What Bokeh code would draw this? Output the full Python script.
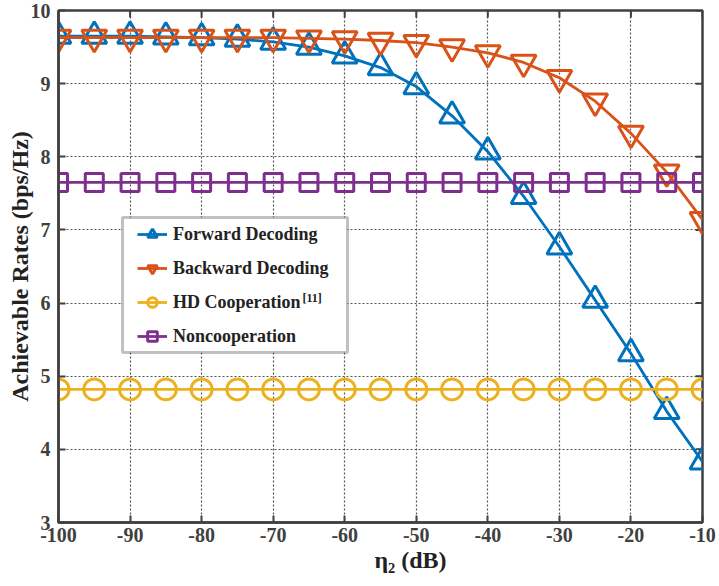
import math
from bokeh.plotting import figure
from bokeh.models import (Range1d, FixedTicker, Legend, LegendItem, Label, BoxAnnotation)
from bokeh.embed import file_html
from bokeh.resources import INLINE

# ---- data ----
eta2_db = [-100, -95, -90, -85, -80, -75, -70, -65, -60, -55, -50, -45, -40, -35, -30, -25, -20, -15, -10]
forward = [9.65, 9.65, 9.65, 9.64, 9.63, 9.61, 9.57, 9.50, 9.38, 9.22, 8.96, 8.56, 8.07, 7.46, 6.77, 6.04, 5.31, 4.52, 3.83]
backward = [9.63, 9.63, 9.63, 9.63, 9.63, 9.63, 9.63, 9.62, 9.61, 9.59, 9.56, 9.50, 9.42, 9.29, 9.08, 8.76, 8.32, 7.79, 7.14]
hd_coop = [4.82] * 19
noncoop = [7.65] * 19

x_ticks = [-100, -90, -80, -70, -60, -50, -40, -30, -20, -10]
y_ticks = [3, 4, 5, 6, 7, 8, 9, 10]

labels = ["Forward Decoding", "Backward Decoding", "HD Cooperation", "Noncooperation"]
colors = ["#0072BD", "#D95319", "#EDB120", "#7E2F8E"]

FONT = "Liberation Serif"
TXT = "#222222"
AX = "#404040"

FW, FH = 644, 512  # frame size
p = figure(width=719, height=586, output_backend="svg", toolbar_location=None,
           x_range=Range1d(-100, -10), y_range=Range1d(3, 10),
           frame_width=FW, frame_height=FH,
           min_border_left=58, min_border_right=17, min_border_top=10, min_border_bottom=64)

p.outline_line_color = AX
p.outline_line_width = 2.5
p.background_fill_color = "white"

for ax in p.xaxis + p.yaxis:
    ax.major_label_text_font = FONT
    ax.major_label_text_font_style = "bold"
    ax.major_label_text_font_size = "20px"
    ax.major_label_text_color = AX
    ax.axis_line_color = AX
    ax.axis_line_width = 2.5
    ax.major_tick_in = 7
    ax.major_tick_out = 0
    ax.major_tick_line_color = AX
    ax.major_tick_line_width = 2
    ax.minor_tick_line_color = None
    ax.axis_label_text_font = FONT
    ax.axis_label_text_font_style = "bold"
    ax.axis_label_text_font_size = "24px"
    ax.axis_label_text_color = TXT

p.xaxis.ticker = FixedTicker(ticks=x_ticks)
p.yaxis.ticker = FixedTicker(ticks=y_ticks)
p.xaxis.major_label_overrides = {t: str(t) for t in x_ticks}
p.xaxis.major_label_standoff = 5
p.yaxis.major_label_standoff = 8
p.yaxis.axis_label = "Achievable Rates (bps/Hz)"
p.yaxis.axis_label_standoff = -5
# label sits a little right of centre in the reference: pad with en-spaces
p.xaxis.axis_label = "\u2002\u2002\u2002\u2002\u2002η₂ (dB)"
p.xaxis.axis_label_standoff = 2

# top / right inward tick marks
p.ray(x=x_ticks, y=[10] * len(x_ticks), length=7, length_units="screen",
      angle=-math.pi / 2, line_color=AX, line_width=2)
p.ray(x=[-10] * len(y_ticks), y=y_ticks, length=7, length_units="screen",
      angle=math.pi, line_color=AX, line_width=2)

p.xgrid.ticker = FixedTicker(ticks=x_ticks)
p.ygrid.ticker = FixedTicker(ticks=y_ticks)
for g in (p.xgrid, p.ygrid):
    g.grid_line_color = "#444444"
    g.grid_line_dash = "2 2"
    g.grid_line_width = 1.2
    g.grid_line_alpha = 0.9

series = [forward, backward, hd_coop, noncoop]
markers = ["triangle", "inverted_triangle", "circle", "square"]
sizes = [25, 25, 21, 18]

items = []
for ys, lab, col, mk, sz in zip(series, labels, colors, markers, sizes):
    ln = p.line(eta2_db, ys, line_color=col, line_width=2.8)
    sc = p.scatter(eta2_db, ys, marker=mk, size=sz, fill_color=None,
                   line_color=col, line_width=3)
    items.append(LegendItem(label=lab, renderers=[ln, sc]))

# legend box (drawn separately so the superscript can sit on top of it)
box = BoxAnnotation(left=64, right=289, top=305, bottom=170,
                    left_units="screen", right_units="screen",
                    top_units="screen", bottom_units="screen",
                    fill_color="white", fill_alpha=1,
                    line_color="#333333", line_width=3)
p.add_layout(box)

LEG_X, LEG_Y = 79, 174
PAD, GW, GH, SP, STAND = 10, 30, 24, 10, 6
legend = Legend(items=items, location=(LEG_X, LEG_Y), orientation="vertical",
                label_text_font=FONT, label_text_font_style="bold",
                label_text_font_size="18px", label_text_color=TXT,
                glyph_width=GW, glyph_height=GH, label_height=GH, spacing=SP,
                padding=PAD, margin=0, label_standoff=STAND,
                border_line_color=None, background_fill_alpha=0)
p.add_layout(legend, "center")

# superscript reference marker after "HD Cooperation"
TEXT_X = 115
sup = Label(x=TEXT_X + 129, y=225, x_units="screen", y_units="screen",
            text="[11]", text_font=FONT, text_font_style="bold", text_font_size="12px",
            text_color=TXT, text_baseline="middle")
p.add_layout(sup)

open("out.html", "w").write(file_html(p, INLINE))
